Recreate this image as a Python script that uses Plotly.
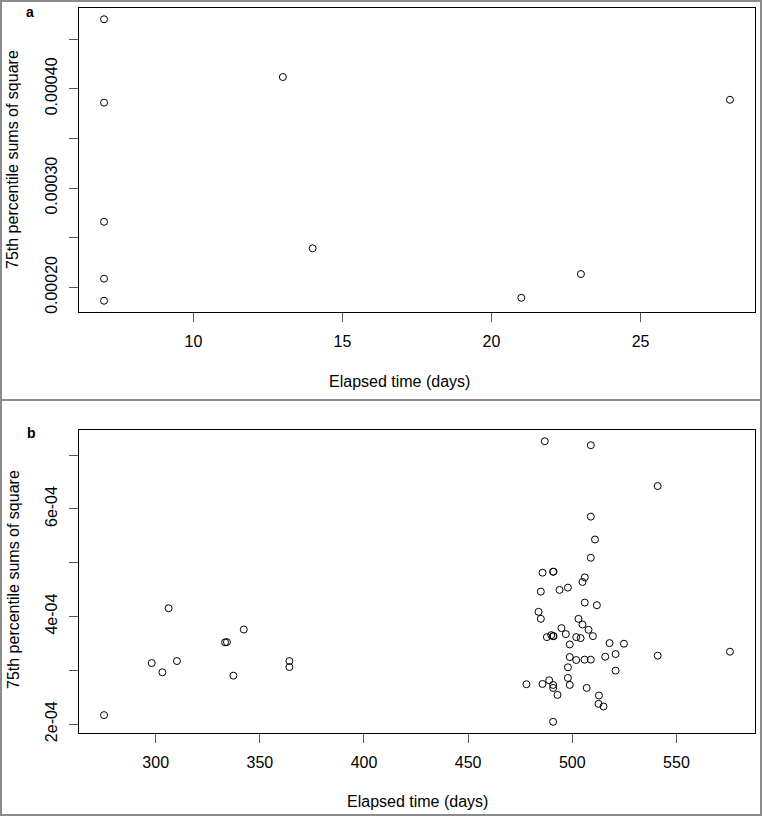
import plotly.graph_objects as go
from plotly.subplots import make_subplots

# ---------------- data ----------------
a_days = [7, 7, 7, 7, 7, 13, 14, 21, 23, 28]
a_ss75 = [0.000470, 0.000386, 0.000266, 0.0002087, 0.0001865,
          0.0004118, 0.0002393, 0.0001895, 0.0002134, 0.0003889]

b_days = [275.2, 298.1, 303.2, 306.2, 310.2, 333.3, 334.2, 337.3, 342.3, 364.2, 364.2,
          486.8, 508.9, 541.0, 508.9, 510.9, 508.9, 485.7, 490.8, 491.0, 506.0,
          504.9, 484.9, 493.9, 497.9, 506.0, 511.8, 483.8, 484.9, 503.0, 504.9,
          494.8, 507.8, 496.9, 509.9, 487.8, 489.9, 490.8, 491.0, 501.9, 504.0,
          498.8, 517.9, 524.8, 520.8, 575.7, 541.0, 515.8, 498.8, 501.9, 505.9,
          508.9, 497.9, 520.8, 497.9, 488.9, 478.0, 485.7, 490.8, 498.8, 490.8,
          506.9, 492.9, 512.8, 512.6, 515.0, 490.8]
b_ss75 = [0.0002167, 0.0003135, 0.0002963, 0.0004154, 0.0003172, 0.0003519, 0.0003524,
          0.0002901, 0.0003759, 0.0003172, 0.0003061,
          0.0007259, 0.0007185, 0.0006426, 0.0005857, 0.0005432, 0.0005093, 0.0004815,
          0.0004833, 0.0004833, 0.0004728, 0.0004642, 0.0004463, 0.0004494, 0.0004537,
          0.0004259, 0.0004210, 0.0004087, 0.0003957, 0.0003957, 0.0003852, 0.0003784,
          0.0003753, 0.0003673, 0.0003635, 0.0003617, 0.0003654, 0.0003635, 0.0003635,
          0.0003617, 0.0003598, 0.0003481, 0.0003506, 0.0003494, 0.0003302, 0.0003346,
          0.0003272, 0.0003253, 0.0003246, 0.0003191, 0.0003198, 0.0003198, 0.0003056,
          0.0002994, 0.0002858, 0.0002815, 0.0002741, 0.0002746, 0.0002728, 0.0002728,
          0.0002672, 0.0002672, 0.0002543, 0.0002531, 0.0002376, 0.0002327, 0.0002043]

a_xticks = [10, 15, 20, 25]
a_yticks = [0.00020, 0.00025, 0.00030, 0.00035, 0.00040, 0.00045]
a_ylabels = ["0.00020", "", "0.00030", "", "0.00040", ""]
b_xticks = [300, 350, 400, 450, 500, 550]
b_yticks = [0.0002, 0.0003, 0.0004, 0.0005, 0.0006, 0.0007]
b_ylabels = ["2e-04", "", "4e-04", "", "6e-04", ""]

x_title = "Elapsed time (days)"
y_title = "75th percentile sums of square"

# ---------------- figure ----------------
W, H = 762, 817
L, R, T, B = 79, 7, 8, 84
PW, PH = W - L - R, H - T - B


def px_x(p):
    return (p - L) / PW


def px_y(p):
    return (H - B - p) / PH


def r_range(v):
    lo, hi = min(v), max(v)
    d = (hi - lo) * 0.04
    return [lo - d, hi + d]


fig = make_subplots(rows=2, cols=1)
font = "Liberation Sans, Arial, Helvetica, sans-serif"
marker = dict(symbol="circle-open", size=7, color="black", line=dict(width=1, color="black"))

fig.add_trace(go.Scatter(x=a_days, y=a_ss75, mode="markers", marker=marker,
                         showlegend=False), row=1, col=1)
fig.add_trace(go.Scatter(x=b_days, y=b_ss75, mode="markers", marker=marker,
                         showlegend=False), row=2, col=1)

ax_common = dict(showline=True, mirror=True, linecolor="black", linewidth=1,
                 ticks="outside", ticklen=9, tickcolor="#555", tickwidth=1,
                 showgrid=False, zeroline=False,
                 tickfont=dict(family=font, size=16, color="black"))

fig.update_layout(
    width=W, height=H, margin=dict(l=L, r=R, t=T, b=B),
    paper_bgcolor="white", plot_bgcolor="white",
    font=dict(family=font, color="black"),
    xaxis=dict(ax_common, domain=[0, 1], range=r_range(a_days), tickvals=a_xticks,
               anchor="y", ticklabelstandoff=6),
    yaxis=dict(ax_common, domain=[px_y(312), 1], range=r_range(a_ss75), tickvals=a_yticks,
               ticktext=a_ylabels, tickangle=-90, anchor="x", ticklabelstandoff=6),
    xaxis2=dict(ax_common, domain=[0, 1], range=r_range(b_days), tickvals=b_xticks,
                anchor="y2", ticklabelstandoff=6),
    yaxis2=dict(ax_common, domain=[0, px_y(430)], range=r_range(b_ss75), tickvals=b_yticks,
                ticktext=b_ylabels, tickangle=-90, anchor="x2", ticklabelstandoff=6),
)

ann = []
for cx, cy, txt, ang, bold in [
    (399, 381, x_title, 0, False),
    (417, 801, x_title, 0, False),
    (13, 160, y_title, -90, False),
    (13, 580, y_title, -90, False),
    (30, 12, "a", 0, True),
    (31, 433, "b", 0, True),
]:
    ann.append(dict(x=px_x(cx), y=px_y(cy), xref="paper", yref="paper",
                    text=("<b>%s</b>" % txt) if bold else txt, showarrow=False,
                    textangle=ang, xanchor="center", yanchor="middle",
                    font=dict(family=font, size=16 if not bold else 14, color="black")))
fig.update_layout(annotations=ann)

gray = "#8c8c8c"
shapes = [
    dict(type="rect", xref="paper", yref="paper", x0=px_x(1), x1=px_x(761),
         y0=px_y(1), y1=px_y(815), line=dict(color=gray, width=2), layer="below"),
    dict(type="line", xref="paper", yref="paper", x0=px_x(0), x1=px_x(762),
         y0=px_y(400), y1=px_y(400), line=dict(color=gray, width=2), layer="below"),
]
fig.update_layout(shapes=shapes)

fig.write_html("out.html", config={"displayModeBar": False},
               post_script="document.body.style.margin='0';document.body.style.padding='0';")
